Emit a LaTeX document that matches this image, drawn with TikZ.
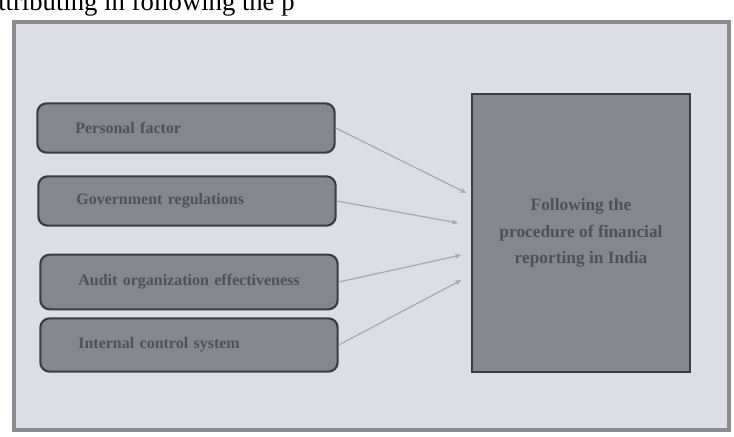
\documentclass[tikz,border=0pt]{standalone}
\usepackage{fontspec}
\setmainfont{Liberation Serif}
\usetikzlibrary{arrows.meta}

\definecolor{pagegray}{HTML}{DDDDE5}
\definecolor{framegray}{HTML}{8C8C90}
\definecolor{boxfill}{HTML}{86868E}
\definecolor{boxedge}{HTML}{3C3C44}
\definecolor{boxtext}{HTML}{50505A}
\definecolor{arrowgray}{HTML}{A8A8B0}

\tikzset{
  factor/.style={draw=boxedge, line width=1.6pt, fill=boxfill, rounded corners=7pt,
    minimum width=223pt, minimum height=37pt, text width=166pt, align=left,
    inner xsep=28pt, text=boxtext, font=\bfseries\fontsize{12}{14}\selectfont},
  outcome/.style={draw=boxedge, line width=1.4pt, fill=boxfill, minimum width=163pt,
    minimum height=208pt, align=center, text=boxtext,
    font=\bfseries\fontsize{13}{20}\selectfont},
  link/.style={draw=arrowgray, line width=0.9pt, -{Stealth[length=5pt,width=4pt]}}
}

\begin{document}
\begin{tikzpicture}[x=0.75pt, y=-0.75pt]
    \useasboundingbox (0,0) rectangle (734,436);

    \node[anchor=base west, inner sep=0pt, font=\fontsize{20}{24}\selectfont] (cut) at (-2,10) {ttributing in following the p};
    \draw[framegray, line width=3.5pt, fill=pagegray] (14,22) rectangle (729,430);

    \node[factor] (pf) at (186,128) {Personal factor};
    \node[factor] (gr) at (187,201) {Government regulations};
    \node[factor, minimum height=41pt] (ao) at (189,282) {Audit organization effectiveness};
    \node[factor, minimum height=40pt] (ic) at (189,345) {Internal control system};

    \node[outcome] (fp) at (581,233) {Following the\\procedure of financial\\reporting in India};

    \coordinate (t1) at ([shift={(-5,-40)}]fp.west);
    \coordinate (t2) at ([shift={(-13,-10)}]fp.west);
    \coordinate (t3) at ([shift={(-10,22)}]fp.west);
    \coordinate (t4) at ([shift={(-10,47)}]fp.west);

    \draw[link] (pf.east) -- (t1);
    \draw[link] (gr.east) -- (t2);
    \draw[link] (ao.east) -- (t3);
    \draw[link] (ic.east) -- (t4);
\end{tikzpicture}
\end{document}
